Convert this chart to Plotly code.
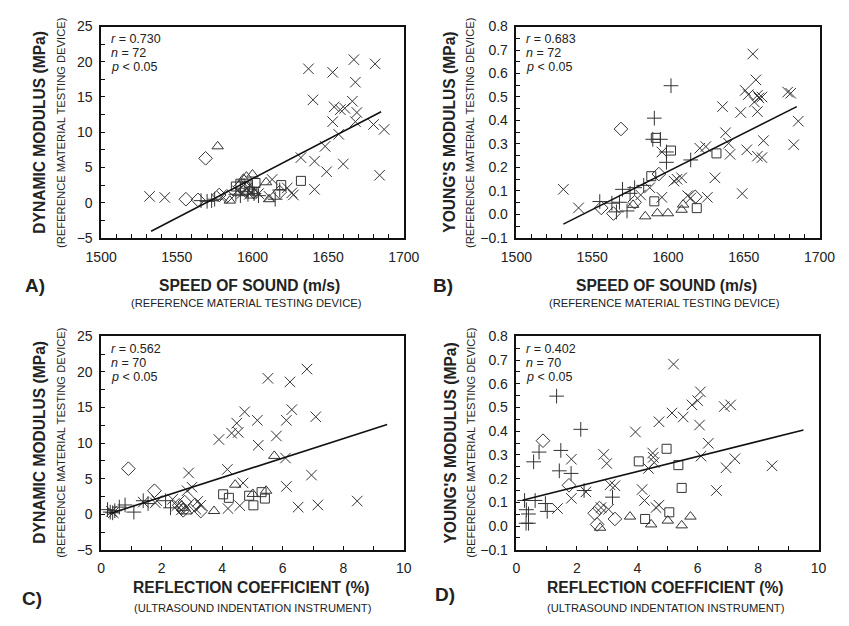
import plotly.graph_objects as go

W, H = 849, 626

# ---------------- Panel A: speed of sound vs dynamic modulus ----------------
A_XM_SOS = [1532, 1542, 1580, 1590, 1593, 1596, 1598, 1599, 1602, 1604, 1611, 1613, 1623, 1626, 1627,
            1632, 1641, 1641, 1637, 1640, 1648, 1649, 1653, 1653, 1654, 1657, 1658, 1660, 1661, 1666,
            1667, 1668, 1668, 1669, 1680, 1681, 1684, 1687]
A_XM_DM = [0.9, 0.75, 0.9, 1.7, 1.3, 2.0, 1.2, 1.5, 1.8, 1.3, 0.9, 3.3, 2.1, 1.4, 1.1,
           6.4, 5.9, 1.9, 19.0, 14.6, 8.0, 4.4, 18.5, 11.5, 13.6, 9.7, 13.2, 5.5, 13.4, 14.4,
           20.3, 17.1, 11.5, 12.8, 11.1, 19.7, 3.9, 10.4]
A_PL_SOS = [1566, 1570, 1573, 1575, 1589, 1592, 1597, 1601, 1604, 1615, 1618, 1600]
A_PL_DM = [0.3, 0.2, 0.3, 0.5, 1.2, 1.0, 1.2, 1.3, 1.0, 0.5, 1.8, 2.2]
A_TR_SOS = [1577, 1585, 1594, 1596, 1600, 1609, 1611]
A_TR_DM = [8.0, 0.3, 3.4, 3.7, 4.0, 2.9, 0.5]
A_SQ_SOS = [1589, 1592, 1595, 1602, 1619, 1632, 1600]
A_SQ_DM = [2.3, 2.7, 2.2, 2.8, 2.5, 3.1, 1.3]
A_DI_SOS = [1556, 1564, 1569, 1578, 1583, 1592, 1596, 1618]
A_DI_DM = [0.5, 0.4, 6.3, 1.1, 0.9, 2.3, 1.9, 1.5]
A_FIT_SOS = [1533, 1685]
A_FIT_DM = [-4.05, 12.9]
A_STATS = ["0.730", "72", "0.05"]

# ---------------- Panel B: speed of sound vs Young's modulus ----------------
B_XM_SOS = [1531, 1541, 1656, 1658, 1651, 1653, 1659, 1660, 1662, 1657,
            1659, 1648, 1636, 1638, 1679, 1681, 1686, 1683, 1663, 1640,
            1641, 1652, 1659, 1662, 1621, 1625, 1631, 1626, 1649, 1609,
            1604, 1613, 1615, 1596, 1596, 1588, 1582, 1606]
B_XM_YM = [0.107, 0.028, 0.683, 0.573, 0.528, 0.51, 0.507, 0.496, 0.5, 0.479,
           0.438, 0.434, 0.459, 0.348, 0.521, 0.516, 0.397, 0.297, 0.314, 0.303,
           0.256, 0.275, 0.248, 0.242, 0.282, 0.289, 0.156, 0.073, 0.089, 0.156,
           0.142, 0.08, 0.07, 0.266, 0.073, 0.114, 0.083, 0.15]
B_PL_SOS = [1602, 1591, 1590, 1595, 1599, 1599, 1615, 1584, 1578, 1570, 1575, 1568, 1555, 1563, 1566, 1573]
B_PL_YM = [0.548, 0.41, 0.32, 0.32, 0.266, 0.222, 0.232, 0.124, 0.114, 0.107, 0.09, 0.052, 0.055, 0.048, 0.011, 0.015]
B_TR_SOS = [1585, 1593, 1600, 1609, 1610, 1577]
B_TR_YM = [-0.008, 0.005, 0.005, 0.02, 0.042, 0.041]
B_SQ_SOS = [1592, 1602, 1632, 1589, 1591, 1619]
B_SQ_YM = [0.326, 0.272, 0.26, 0.163, 0.056, 0.027]
B_DI_SOS = [1569, 1594, 1556, 1564, 1578, 1618]
B_DI_YM = [0.364, 0.172, 0.028, 0.004, 0.052, 0.075]
B_FIT_SOS = [1531, 1685]
B_FIT_YM = [-0.041, 0.459]
B_STATS = ["0.683", "72", "0.05"]

# ------------- Panel C: reflection coefficient vs dynamic modulus -------------
C_XM_RC = [6.80, 5.51, 6.24, 6.30, 4.74, 7.09, 5.16, 6.12, 4.48, 4.31,
           4.53, 5.79, 3.89, 5.19, 6.09, 4.17, 2.89, 4.69, 3.00, 6.95,
           6.12, 8.46, 6.51, 7.16, 4.58, 4.19, 2.84, 3.19, 3.29, 3.13,
           2.36, 1.79, 1.39, 1.84, 0.34, 2.50, 2.65, 0.40]
C_XM_DM = [20.4, 19.1, 18.6, 14.7, 14.4, 13.7, 13.2, 13.2, 12.8, 11.4,
           11.5, 11.0, 10.5, 9.7, 7.9, 6.3, 5.8, 4.4, 3.8, 5.5,
           3.9, 1.85, 1.0, 1.3, 1.2, 0.8, 3.3, 1.8, 1.25, 0.7,
           2.1, 1.6, 1.7, 1.9, 0.4, 1.2, 0.6, 0.2]
C_PL_RC = [0.21, 0.30, 0.38, 0.45, 0.60, 0.79, 1.08, 1.39, 1.55, 2.13, 2.29]
C_PL_DM = [0.65, 0.3, 0.2, 0.5, 1.0, 1.3, 0.3, 1.9, 1.5, 1.9, 0.9]
C_TR_RC = [5.72, 4.43, 5.01, 5.45, 3.73, 2.82, 2.70]
C_TR_DM = [8.2, 4.15, 2.85, 3.3, 0.45, 0.4, 0.9]
C_SQ_RC = [4.03, 4.22, 4.89, 5.03, 5.30, 5.41]
C_SQ_DM = [2.8, 2.3, 2.6, 1.25, 3.1, 2.2]
C_DI_RC = [0.90, 1.76, 2.76, 2.66, 3.29, 2.71, 2.58, 3.10]
C_DI_DM = [6.4, 3.3, 1.7, 0.9, 0.45, 0.55, 1.25, 1.3]
C_FIT_RC = [0.3, 9.45]
C_FIT_DM = [0.1, 12.6]
C_STATS = ["0.562", "70", "0.05"]

# ------------- Panel D: reflection coefficient vs Young's modulus -------------
D_XM_RC = [5.20, 6.09, 6.00, 5.81, 6.88, 7.09, 5.15, 5.52, 4.72, 6.06,
           3.94, 6.35, 2.89, 4.51, 4.53, 6.11, 7.23, 2.99, 4.56, 1.82,
           4.37, 6.94, 8.46, 3.10, 3.26, 4.16, 6.62, 2.30, 1.82, 4.24,
           1.36, 3.05, 4.62, 4.72, 2.80]
D_XM_YM = [0.683, 0.566, 0.529, 0.511, 0.504, 0.511, 0.477, 0.46, 0.44, 0.426,
           0.397, 0.349, 0.302, 0.308, 0.29, 0.295, 0.284, 0.264, 0.268, 0.282,
           0.243, 0.246, 0.254, 0.174, 0.17, 0.154, 0.15, 0.144, 0.117, 0.108,
           0.074, 0.071, 0.078, 0.088, 0.078]
D_PL_RC = [1.33, 2.13, 0.75, 1.47, 0.57, 1.42, 1.81, 2.24, 3.18, 0.27, 0.62, 0.96, 1.02, 0.33, 0.40, 0.32, 0.40]
D_PL_YM = [0.548, 0.408, 0.312, 0.319, 0.271, 0.233, 0.222, 0.15, 0.122, 0.108, 0.108, 0.095, 0.062, 0.069, 0.051, 0.012, 0.012]
D_TR_RC = [2.77, 3.76, 4.46, 5.01, 5.47, 5.76]
D_TR_YM = [-0.007, 0.04, 0.007, 0.023, 0.003, 0.04]
D_SQ_RC = [4.97, 4.05, 5.36, 5.47, 5.06, 4.26]
D_SQ_YM = [0.326, 0.273, 0.257, 0.161, 0.058, 0.03]
D_DI_RC = [0.88, 1.74, 2.75, 2.59, 2.67, 3.26]
D_DI_YM = [0.36, 0.172, 0.076, 0.054, 0.007, 0.03]
D_FIT_RC = [0.2, 9.5]
D_FIT_YM = [0.109, 0.405]
D_STATS = ["0.402", "70", "0.05"]

# Axis text
X_TITLE_SOS = "SPEED OF SOUND (m/s)"
X_SUB_SOS = "(REFERENCE MATERIAL TESTING DEVICE)"
X_TITLE_RC = "REFLECTION COEFFICIENT (%)"
X_SUB_RC = "(ULTRASOUND INDENTATION INSTRUMENT)"
Y_TITLE_DM = "DYNAMIC MODULUS (MPa)"
Y_TITLE_YM = "YOUNG'S MODULUS (MPa)"
Y_SUB = "(REFERENCE MATERIAL TESTING DEVICE)"

FONT = "Liberation Sans, Arial, Helvetica, sans-serif"
INK = "#222222"
MARK = "#333333"

SYMBOLS = {
    "xm": ("x-thin-open", 10.5),
    "pl": ("cross-thin-open", 10.5),
    "tr": ("triangle-up-open", 10),
    "sq": ("square-open", 9),
    "di": ("diamond-open", 10.5),
}


def px_x(px):
    return px / W


def px_y(py):
    return 1 - py / H


fig = go.Figure()

panels = [
    # name, axis suffix, groups, fit, stats, plot box (left, top, right, bottom) px
    ("A", "", {"xm": (A_XM_SOS, A_XM_DM), "pl": (A_PL_SOS, A_PL_DM), "tr": (A_TR_SOS, A_TR_DM),
               "sq": (A_SQ_SOS, A_SQ_DM), "di": (A_DI_SOS, A_DI_DM)},
     (A_FIT_SOS, A_FIT_DM), A_STATS, (88.5, 19, 403, 236)),
    ("B", "2", {"xm": (B_XM_SOS, B_XM_YM), "pl": (B_PL_SOS, B_PL_YM), "tr": (B_TR_SOS, B_TR_YM),
                "sq": (B_SQ_SOS, B_SQ_YM), "di": (B_DI_SOS, B_DI_YM)},
     (B_FIT_SOS, B_FIT_YM), B_STATS, (520, 19, 835, 236)),
    ("C", "3", {"xm": (C_XM_RC, C_XM_DM), "pl": (C_PL_RC, C_PL_DM), "tr": (C_TR_RC, C_TR_DM),
                "sq": (C_SQ_RC, C_SQ_DM), "di": (C_DI_RC, C_DI_DM)},
     (C_FIT_RC, C_FIT_DM), C_STATS, (88.5, 337, 403, 556)),
    ("D", "4", {"xm": (D_XM_RC, D_XM_YM), "pl": (D_PL_RC, D_PL_YM), "tr": (D_TR_RC, D_TR_YM),
                "sq": (D_SQ_RC, D_SQ_YM), "di": (D_DI_RC, D_DI_YM)},
     (D_FIT_RC, D_FIT_YM), D_STATS, (520, 337, 834, 556)),
]

x_specs = {
    "": dict(range=[1500, 1700], dtick=50, minor=10),
    "2": dict(range=[1500, 1700], dtick=50, minor=10),
    "3": dict(range=[0, 10], dtick=2, minor=1),
    "4": dict(range=[0, 10], dtick=2, minor=1),
}
y_specs = {
    "": dict(range=[-5, 25], dtick=5, minor=2.5, fmt=None),
    "2": dict(range=[-0.1, 0.8], dtick=0.1, minor=0.05, fmt=".1f"),
    "3": dict(range=[-5, 25], dtick=5, minor=2.5, fmt=None),
    "4": dict(range=[-0.1, 0.8], dtick=0.1, minor=0.05, fmt=".1f"),
}

layout_axes = {}
annotations = []

for name, sfx, groups, fit, stats, box in panels:
    xa, ya = "x" + sfx, "y" + sfx
    for key, (xs, ys) in groups.items():
        sym, size = SYMBOLS[key]
        fig.add_trace(go.Scatter(
            x=xs, y=ys, mode="markers", xaxis=xa, yaxis=ya, showlegend=False,
            marker=dict(symbol=sym, size=size, color=MARK, line=dict(color=MARK, width=1)),
        ))
    fig.add_trace(go.Scatter(
        x=fit[0], y=fit[1], mode="lines", xaxis=xa, yaxis=ya, showlegend=False,
        line=dict(color="#111111", width=1.6),
    ))

    left, top, right, bottom = box
    xs_, ys_ = x_specs[sfx], y_specs[sfx]
    common = dict(
        showline=True, linecolor="#111111", linewidth=1.5, mirror=True,
        ticks="inside", ticklen=4, tickwidth=1, tickcolor="#111111",
        showgrid=False, zeroline=False, fixedrange=True,
        tickfont=dict(family=FONT, size=14, color=INK),
    )
    layout_axes["xaxis" + sfx] = dict(
        common, domain=[px_x(left), px_x(right)], anchor=ya,
        range=xs_["range"], tick0=xs_["range"][0], dtick=xs_["dtick"],
        minor=dict(dtick=xs_["minor"], ticks="inside", ticklen=4, tickcolor="#111111", showgrid=False),
        ticklabelstandoff=5,
    )
    ydict = dict(
        common, domain=[px_y(bottom), px_y(top)], anchor=xa,
        range=ys_["range"], tick0=ys_["range"][0], dtick=ys_["dtick"],
        minor=dict(dtick=ys_["minor"], ticks="inside", ticklen=4, tickcolor="#111111", showgrid=False),
        ticklabelstandoff=4,
    )
    if ys_["fmt"]:
        ydict["tickformat"] = ys_["fmt"]
    layout_axes["yaxis" + sfx] = ydict

    # statistics block in the upper-left corner of each plot
    for i, (lab, val) in enumerate(zip(["r", "n", "p"], stats)):
        op = "<" if lab == "p" else "="
        annotations.append(dict(
            x=px_x(left + 9), y=px_y(top + 13 + i * 14.5), xref="paper", yref="paper",
            xanchor="left", yanchor="middle", showarrow=False, borderpad=0,
            text=f"<i>{lab}</i> {op} {val}",
            font=dict(family=FONT, size=12.5, color=INK),
        ))

# axis titles, subtitles and panel letters (pixel positions)
texts = [
    # (text, x, y, size, bold, angle)
    ("A)", 20, 285, 19, True, 0),
    (X_TITLE_SOS, 243, 285, 15.6, True, 0),
    (X_SUB_SOS, 240, 303, 11.2, False, 0),
    (Y_TITLE_DM, 25, 128, 15.6, True, -90),
    (Y_SUB, 46, 128, 11.2, False, -90),

    ("B)", 444, 285, 19, True, 0),
    (X_TITLE_SOS, 676, 285, 15.6, True, 0),
    (X_SUB_SOS, 674, 303, 11.2, False, 0),
    (Y_TITLE_YM, 451, 128, 15.6, True, -90),
    (Y_SUB, 471, 128, 11.2, False, -90),

    ("C)", 17, 606, 19, True, 0),
    (X_TITLE_RC, 245, 595, 15.6, True, 0),
    (X_SUB_RC, 246, 616, 11.2, False, 0),
    (Y_TITLE_DM, 25, 446, 15.6, True, -90),
    (Y_SUB, 46, 446, 11.2, False, -90),

    ("D)", 446, 602, 19, True, 0),
    (X_TITLE_RC, 675, 595, 15.6, True, 0),
    (X_SUB_RC, 675, 616, 11.2, False, 0),
    (Y_TITLE_YM, 452, 446, 15.6, True, -90),
    (Y_SUB, 472, 446, 11.2, False, -90),
]
for txt, x, y, size, bold, ang in texts:
    annotations.append(dict(
        x=px_x(x), y=px_y(y), xref="paper", yref="paper",
        xanchor="center", yanchor="middle", showarrow=False, textangle=ang,
        text=f"<b>{txt}</b>" if bold else txt,
        font=dict(family=FONT, size=size, color=INK),
    ))

fig.update_layout(
    width=W, height=H, margin=dict(l=0, r=0, t=0, b=0),
    paper_bgcolor="white", plot_bgcolor="white",
    showlegend=False, annotations=annotations,
    **layout_axes,
)

fig.write_html("out.html", config={"displayModeBar": False})
